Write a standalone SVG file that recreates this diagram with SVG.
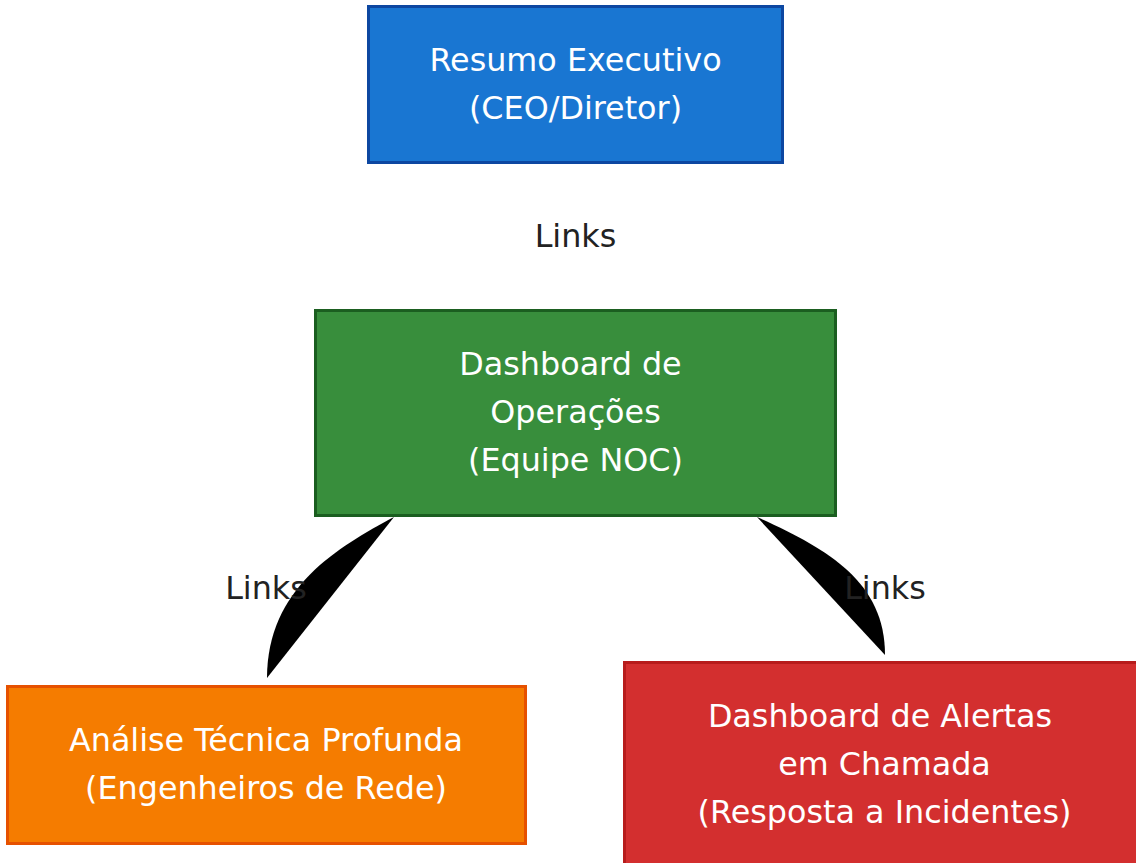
<svg xmlns="http://www.w3.org/2000/svg" width="1136" height="863" viewBox="0 0 1136 863">
<style>
.t{font-family:"DejaVu Sans","Liberation Sans",sans-serif;font-size:31.8px;fill:#ffffff;text-anchor:middle}
.l{font-family:"DejaVu Sans","Liberation Sans",sans-serif;font-size:31.8px;fill:#222222;text-anchor:middle}
.n{stroke-width:3}
</style>
<rect width="1136" height="863" fill="#ffffff"/>
<g id="connectors">
<path d="M394,517 C338,547 267,588 267,678 Z" fill="#000000"/>
<path d="M757,517 C825,548 885,580 885,655 Z" fill="#000000"/>
<text class="l" x="575.5" y="247">Links</text>
<text class="l" x="266" y="599">Links</text>
<text class="l" x="885" y="599">Links</text>
</g>
<g id="resumo">
<rect class="n" x="368.5" y="6.5" width="414" height="156" fill="#1976d2" stroke="#0d47a1"/>
<text class="t" x="575.5" y="71">Resumo Executivo</text>
<text class="t" x="575.5" y="119">(CEO/Diretor)</text>
</g>
<g id="operacoes">
<rect class="n" x="315.5" y="310.5" width="520" height="205" fill="#388e3c" stroke="#1b5e20"/>
<text class="t" x="570.5" y="375">Dashboard de</text>
<text class="t" x="575.5" y="423">Operações</text>
<text class="t" x="575.5" y="471">(Equipe NOC)</text>
</g>
<g id="analise">
<rect class="n" x="7.5" y="686.5" width="518" height="157" fill="#f57c00" stroke="#e65100"/>
<text class="t" x="266" y="751">Análise Técnica Profunda</text>
<text class="t" x="266" y="799">(Engenheiros de Rede)</text>
</g>
<g id="alertas">
<rect class="n" x="624.5" y="662.5" width="524" height="212" fill="#d32f2f" stroke="#b71c1c"/>
<text class="t" x="880" y="727">Dashboard de Alertas</text>
<text class="t" x="884.5" y="775">em Chamada</text>
<text class="t" x="884.5" y="823">(Resposta a Incidentes)</text>
</g>
</svg>
